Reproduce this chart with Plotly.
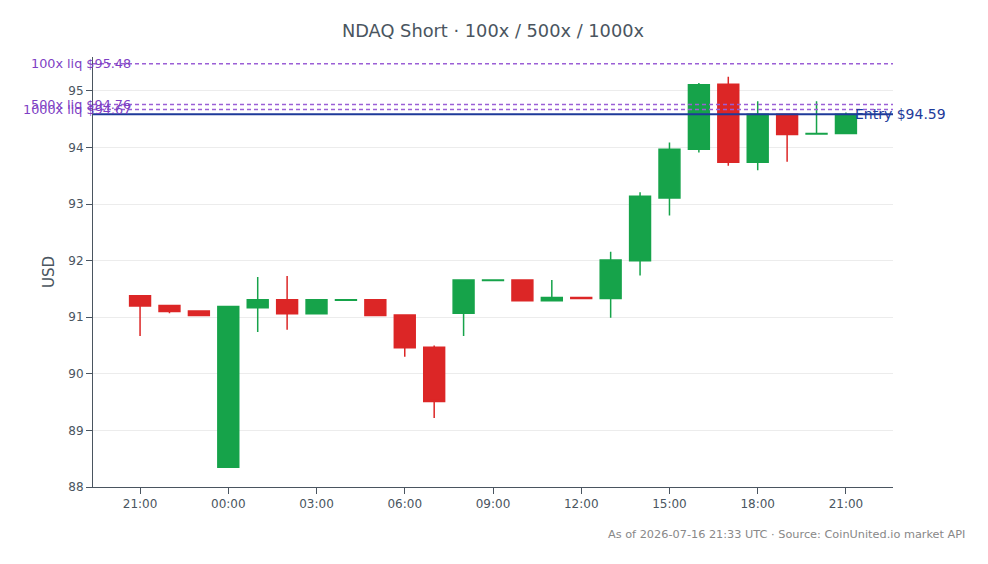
import plotly.graph_objects as go
import pandas as pd

times = pd.date_range("2026-07-15 21:00", periods=25, freq="h")
opens  = [91.38, 91.21, 91.11, 88.35, 91.17, 91.31, 91.06, 91.30, 91.31, 91.04, 90.47, 91.07, 91.65,
          91.66, 91.29, 91.35, 91.33, 92.00, 93.11, 93.97, 95.12, 93.74, 94.59, 94.24, 94.25]
highs  = [91.38, 91.21, 91.11, 91.19, 91.71, 91.73, 91.31, 91.31, 91.31, 91.04, 90.50, 91.66, 91.66,
          91.66, 91.66, 91.35, 92.16, 93.21, 94.09, 95.14, 95.25, 94.82, 94.59, 94.82, 94.62]
lows   = [90.67, 91.07, 91.03, 88.35, 90.74, 90.78, 91.06, 91.30, 91.03, 90.30, 89.22, 90.67, 91.65,
          91.29, 91.29, 91.33, 90.99, 91.74, 92.80, 93.91, 93.68, 93.60, 93.75, 94.24, 94.25]
closes = [91.20, 91.10, 91.03, 91.19, 91.31, 91.06, 91.31, 91.31, 91.03, 90.46, 89.51, 91.66, 91.66,
          91.29, 91.35, 91.33, 92.01, 93.14, 93.97, 95.11, 93.74, 94.59, 94.23, 94.25, 94.59]

liq_labels = ["100x liq", "500x liq", "1000x liq"]
liq_prices = [95.48, 94.76, 94.67]
entry_price = 94.59

title_text = "NDAQ Short · 100x / 500x / 1000x"
footer_text = "As of 2026-07-16 21:33 UTC · Source: CoinUnited.io market API"

GREEN = "#16a34a"
RED = "#dc2626"
PURPLE = "#9b5fd6"
PURPLE_TXT = "#7e3fc4"
BLUE = "#1e3a9a"
FONT = "DejaVu Sans"

fig = go.Figure()
fig.add_trace(go.Candlestick(
    x=times, open=opens, high=highs, low=lows, close=closes,
    increasing=dict(line=dict(color=GREEN, width=1.5), fillcolor=GREEN),
    decreasing=dict(line=dict(color=RED, width=1.5), fillcolor=RED),
    showlegend=False,
))

for lab, p in zip(liq_labels, liq_prices):
    fig.add_shape(type="line", xref="paper", x0=0, x1=1, yref="y", y0=p, y1=p,
                  line=dict(color=PURPLE, width=1.5, dash="4px,3px"))
    fig.add_annotation(xref="paper", x=0, yref="y", y=p, text=f"{lab} ${p:.2f}",
                       showarrow=False, xanchor="right", yanchor="middle", xshift=40,
                       font=dict(family=FONT, size=12.8, color=PURPLE_TXT))

fig.add_shape(type="line", xref="paper", x0=0, x1=1, yref="y", y0=entry_price, y1=entry_price,
              line=dict(color=BLUE, width=2))
fig.add_annotation(xref="paper", x=1, yref="y", y=entry_price, text=f"Entry ${entry_price:.2f}",
                   showarrow=False, xanchor="left", yanchor="middle", xshift=-40,
                   font=dict(family=FONT, size=14, color=BLUE))

fig.add_annotation(xref="paper", yref="paper", x=1.0925, y=-0.111, text=footer_text,
                   showarrow=False, xanchor="right", yanchor="middle",
                   font=dict(family=FONT, size=11.3, color="#888888"))

tickvals = pd.date_range("2026-07-15 21:00", periods=9, freq="3h")
fig.update_layout(
    width=988, height=564,
    margin=dict(l=93, r=95, t=57, b=77),
    paper_bgcolor="white", plot_bgcolor="white",
    font=dict(family=FONT, size=12, color="#444444"),
    boxgap=0.29, boxgroupgap=0,
    title=dict(text=title_text, x=0.5, xref="paper", xanchor="center", y=0.945, yanchor="middle",
               font=dict(family=FONT, size=17.8, color="#4a5560")),
    xaxis=dict(
        range=[pd.Timestamp("2026-07-15 19:24"), pd.Timestamp("2026-07-16 22:36")],
        tickvals=tickvals, tickformat="%H:%M",
        showgrid=False, showline=True, linecolor="#4a5560", linewidth=1,
        ticks="outside", ticklen=6, tickcolor="#4a5560",
        rangeslider=dict(visible=False),
        tickfont=dict(family=FONT, size=12, color="#4a5560"),
    ),
    yaxis=dict(
        range=[88, 95.6], dtick=1,
        title=dict(text="USD", font=dict(family=FONT, size=15, color="#4a5560"), standoff=10),
        showgrid=True, gridcolor="#ececec", zeroline=False,
        showline=True, linecolor="#4a5560", linewidth=1,
        ticks="outside", ticklen=6, tickcolor="#4a5560",
        tickfont=dict(family=FONT, size=12, color="#4a5560"),
    ),
)

fig.write_html("out.html")
